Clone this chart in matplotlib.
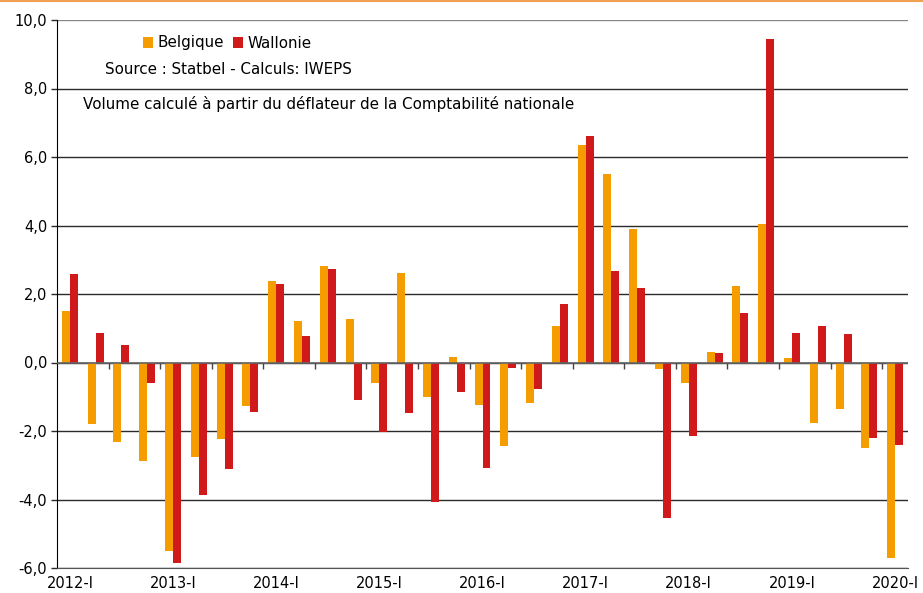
import numpy as np
import matplotlib
matplotlib.use("Agg")
import matplotlib.pyplot as plt
from matplotlib.lines import Line2D
from matplotlib.ticker import FuncFormatter

plt.rcParams['font.family'] = ['DejaVu Sans']

# quarterly growth (%), 2012-I .. 2020-I
quarters = [f"{y}-{q}" for y in range(2012, 2021) for q in ["I", "II", "III", "IV"]][:33]
belgique = [1.49, -1.81, -2.31, -2.89, -5.49, -2.76, -2.24, -1.26,
            2.39, 1.22, 2.83, 1.26, -0.61, 2.60, -1.02, 0.17,
            -1.24, -2.43, -1.17, 1.08, 6.34, 5.49, 3.89, -0.20,
            -0.60, 0.31, 2.23, 4.04, 0.14, -1.78, -1.35, -2.51, -5.70]
wallonie = [2.58, 0.85, 0.52, -0.61, -5.85, -3.88, -3.11, -1.44,
            2.30, 0.76, 2.73, -1.09, -2.02, -1.47, -4.07, -0.86,
            -3.07, -0.17, -0.77, 1.70, 6.62, 2.67, 2.18, -4.55,
            -2.15, 0.29, 1.44, 9.45, 0.87, 1.07, 0.83, -2.21, -2.42]

c_bel = "#F59D00"
c_wal = "#D0191B"
grid_c = "#2b2b2b"
fs = 10.5
fs_txt = 10.9

fig = plt.figure(figsize=(9.23, 5.93), dpi=100)
ax = fig.add_axes([57/923, 1-568/593, (908-57)/923, (568-20)/593])

x = np.arange(len(quarters))
w = 0.31
ax.bar(x - w/2, belgique, w, color=c_bel, label="Belgique", zorder=2)
ax.bar(x + w/2, wallonie, w, color=c_wal, label="Wallonie", zorder=2)

ax.set_xlim(-0.5, len(quarters) - 0.5)
ax.set_ylim(-6, 10)
ax.set_yticks(np.arange(-6, 10.1, 2))
ax.yaxis.set_major_formatter(FuncFormatter(lambda v, p: f"{v:.1f}".replace(".", ",")))
ax.yaxis.grid(True, color=grid_c, lw=1, zorder=1)
ax.set_axisbelow(True)

ax.axhline(0, color="#666666", lw=1.2, zorder=3)

ax.set_xticks(x[::4])
ax.set_xticklabels(quarters[::4])
ax.tick_params(axis="x", length=0, pad=6, labelsize=fs)
ax.tick_params(axis="y", length=4, width=1, color=grid_c, labelsize=fs, pad=3)

# small tick marks on the zero line every 2 quarters
sec = ax.secondary_xaxis(6/16)
sec.set_xticks(np.arange(1.5, len(quarters) - 1, 2))
sec.set_xticklabels([])
sec.tick_params(length=4, width=1, color="#444444")
sec.spines["bottom"].set_visible(False)

for s in ["top", "right"]:
    ax.spines[s].set_visible(False)
ax.spines["bottom"].set_color("#555555")
ax.spines["left"].set_color("black")
ax.get_ygridlines()[-1].set_color("#888888")

leg = ax.legend(loc="center", bbox_to_anchor=(227/923, 1-43/593), bbox_transform=fig.transFigure,
                ncol=2, frameon=False, fontsize=fs_txt, handlelength=0.7, handleheight=0.7,
                handletextpad=0.25, columnspacing=0.6)

fig.text(105/923, 1-70/593, "Source : Statbel - Calculs: IWEPS", fontsize=fs_txt, va="center", ha="left")
fig.text(83/923, 1-104/593, "Volume calculé à partir du déflateur de la Comptabilité nationale",
         fontsize=fs_txt, va="center", ha="left")

fig.add_artist(Line2D([0, 1], [1-1/593, 1-1/593], color="#F0A050", lw=1.5))

fig.savefig("out.png", dpi=100)
